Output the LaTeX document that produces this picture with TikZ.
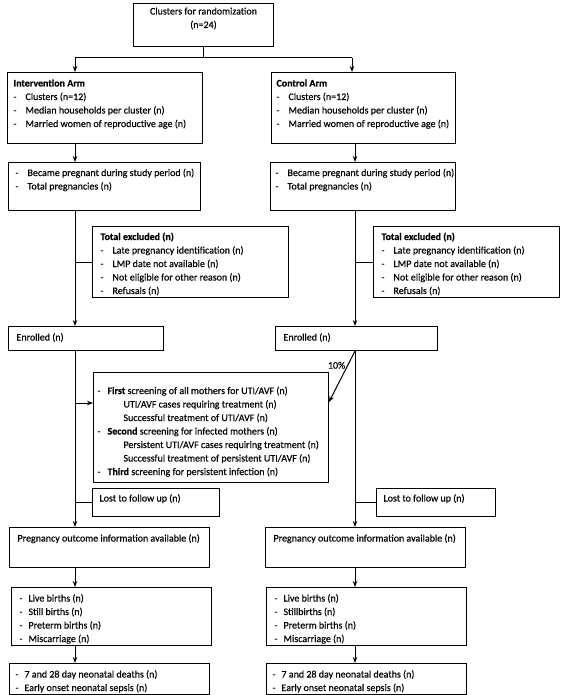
\documentclass[tikz,border=0pt]{standalone}
\usepackage{fontspec}
\setmainfont{Carlito}[FakeBold=0.35]
\usetikzlibrary{arrows.meta,calc}
\tikzset{
  box/.style={draw, line width=1pt, inner sep=0pt, anchor=north west},
  conn/.style={line width=1pt},
  arr/.style={conn, -{Stealth[length=6pt,width=4.5pt]}},
  lbl/.style={font=\fontsize{10}{12}\selectfont, inner sep=1pt},
}
% name, x, y, w, h, first-baseline offset, content
\newcommand\bx[7]{\node[box] (#1) at (#2pt,-#3pt)
  {\parbox[c][#5pt][t]{#4pt}{\fontsize{10}{13.5}\selectfont\raggedright\leftskip=6pt
   \vspace*{\dimexpr #6pt-9.45pt\relax}#7}};}
\newcommand\tl[1]{\strut#1\par}
\newcommand\dl[1]{\strut\makebox[12pt][l]{-}#1\par}
\newcommand\dls[1]{\strut\makebox[9pt][l]{-}#1\par}
\begin{document}
\begin{tikzpicture}
\useasboundingbox (0,0) rectangle (567pt,-695pt);
\bx{top}{133}{3}{140}{43}{13.5}{\centering Clusters for randomization\\\strut(n=24)}
\bx{int}{7}{72}{195}{71}{14}{\leftskip=6pt\tl{\textbf{Intervention Arm}}\dl{Clusters (n=12)}\dl{Median households per cluster (n)}\dl{Married women of reproductive age (n)}}
\bx{ctl}{271}{72}{184}{71}{14}{\leftskip=5pt\tl{\textbf{Control Arm}}\dl{Clusters (n=12)}\dl{Median households per cluster (n)}\dl{Married women of reproductive age (n)}}
\bx{pl}{8}{162}{192}{48}{13.5}{\leftskip=7pt\dl{Became pregnant during study period (n)}\dl{Total pregnancies (n)}}
\bx{pr}{270}{162}{185}{48}{13.5}{\leftskip=5pt\dl{Became pregnant during study period (n)}\dl{Total pregnancies (n)}}
\bx{exl}{92}{226}{196}{71}{13.5}{\leftskip=8pt\tl{\textbf{Total excluded (n)}}\dl{Late pregnancy identification (n)}\dl{LMP date not available (n)}\dl{Not eligible for other reason (n)}\dl{Refusals (n)}}
\bx{exr}{373}{226}{186}{71}{13.5}{\leftskip=8pt\tl{\textbf{Total excluded (n)}}\dl{Late pregnancy identification (n)}\dl{LMP date not available (n)}\dl{Not eligible for other reason (n)}\dl{Refusals (n)}}
\bx{enl}{8}{326}{155}{24}{14}{\leftskip=8pt\tl{Enrolled (n)}}
\bx{enr}{275}{326}{162}{24}{14}{\leftskip=8pt\tl{Enrolled (n)}}
\bx{scr}{93}{372}{235}{110}{21.5}{\leftskip=4pt
  \strut\makebox[10pt][l]{-}\textbf{First} screening of all mothers for UTI/AVF (n)\par
  \strut\hspace*{26pt}UTI/AVF cases requiring treatment (n)\par
  \strut\hspace*{26pt}Successful treatment of UTI/AVF (n)\par
  \strut\makebox[10pt][l]{-}\textbf{Second} screening for infected mothers (n)\par
  \strut\hspace*{26pt}Persistent UTI/AVF cases requiring treatment (n)\par
  \strut\hspace*{26pt}Successful treatment of persistent UTI/AVF (n)\par
  \strut\makebox[10pt][l]{-}\textbf{Third} screening for persistent infection (n)\par}
\bx{lostl}{92}{488}{127}{28}{13}{\leftskip=7pt\tl{Lost to follow up (n)}}
\bx{lostr}{376}{488}{119}{28}{13}{\leftskip=7pt\tl{Lost to follow up (n)}}
\bx{pol}{9}{527}{200}{40}{14}{\leftskip=8pt\tl{Pregnancy outcome information available (n)}}
\bx{por}{265}{527}{200}{40}{14}{\leftskip=8pt\tl{Pregnancy outcome information available (n)}}
\bx{bl}{11}{587}{200}{58}{14}{\leftskip=8pt\dls{Live births (n)}\dls{Still births (n)}\dls{Preterm births (n)}\dls{Miscarriage (n)}}
\bx{br}{266}{587}{200}{58}{14}{\leftskip=8pt\dls{Live births (n)}\dls{Stillbirths (n)}\dls{Preterm births (n)}\dls{Miscarriage (n)}}
\bx{nl}{9}{663}{200}{31}{14}{\leftskip=6pt\dls{7 and 28 day neonatal deaths (n)}\dls{Early onset neonatal sepsis (n)}}
\bx{nr}{266}{663}{200}{31}{14}{\leftskip=6pt\dls{7 and 28 day neonatal deaths (n)}\dls{Early onset neonatal sepsis (n)}}
% connectors
\coordinate (L) at (75pt,-58pt);
\coordinate (R) at (352pt,-58pt);
\coordinate (R2) at (355pt,-58pt);
\draw[conn] (top.south) -- (top.south |- L);
\draw[conn] (L) -- (R);
\draw[arr] (L) -- (L |- int.north);
\draw[arr] (R) -- (R |- ctl.north);
\draw[arr] (L |- int.south) -- (L |- pl.north);
\draw[arr] (R2 |- ctl.south) -- (R2 |- pr.north);
\draw[arr] (L |- pl.south) -- (L |- enl.north);
\draw[conn] (L |- exl.west) -- (exl.west);
\draw[arr] (R2 |- pr.south) -- (R2 |- enr.north);
\draw[conn] (R2 |- exr.west) -- (exr.west);
\draw[arr] (L |- enl.south) -- (L |- pol.north);
\coordinate (sa) at ($(scr.north west)+(0,-31pt)$);
\coordinate (sb) at ($(scr.north east)+(0,-30pt)$);
\draw[arr] (L |- sa) -- (sa);
\draw[conn] (L |- lostl.west) -- (lostl.west);
\draw[arr] (R2 |- enr.south) -- (R2 |- por.north);
\draw[conn] (R2 |- lostr.west) -- (lostr.west);
\draw[arr] (R2 |- enr.south) -- node[lbl, pos=0.28, left=1pt] {10\%} (sb);
\draw[arr] (L |- pol.south) -- (L |- bl.north);
\draw[arr] (R2 |- por.south) -- (R2 |- br.north);
\draw[arr] (L |- bl.south) -- (L |- nl.north);
\draw[arr] (R2 |- br.south) -- (R2 |- nr.north);
\end{tikzpicture}
\end{document}
